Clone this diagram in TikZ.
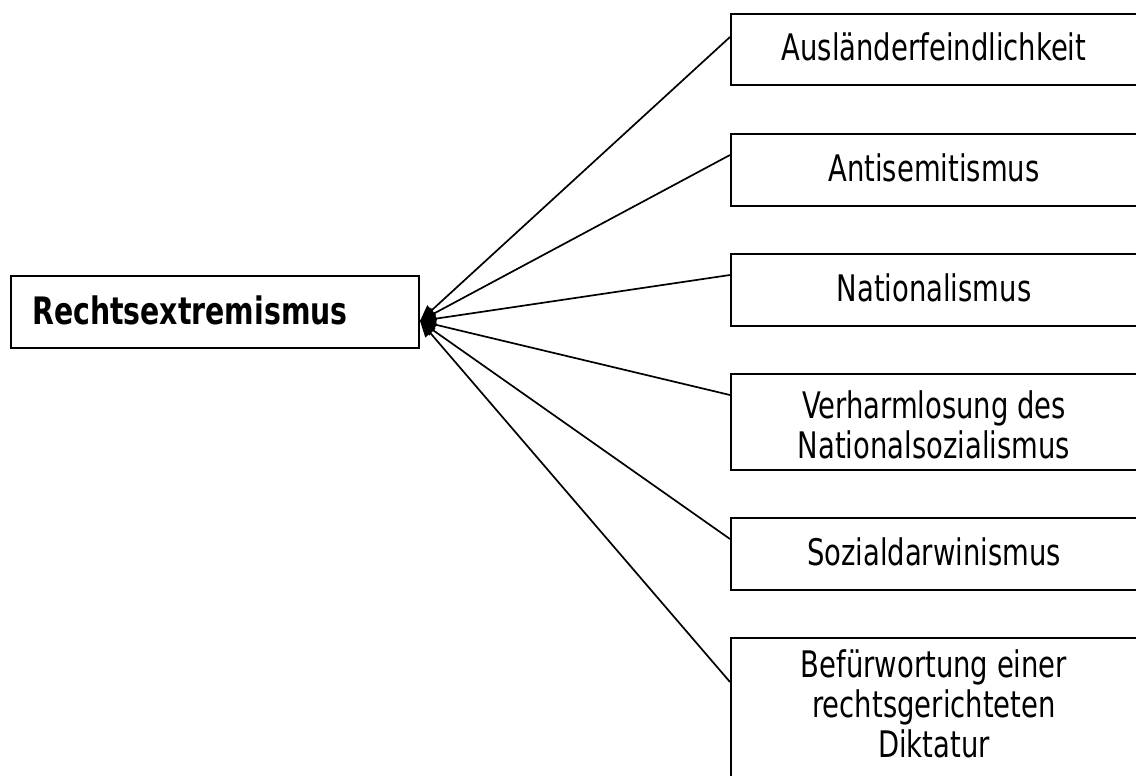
\documentclass[tikz,border=0pt]{standalone}
\usepackage{fontspec}
\usepackage{graphicx}
\setmainfont{DejaVu Sans Condensed}
\usetikzlibrary{arrows.meta}
\newcommand\stretchtext[1]{\scalebox{1}[1.2]{\begin{tabular}[b]{@{}c@{}}#1\end{tabular}}}
\begin{document}
\begin{tikzpicture}[x=1pt,y=-1pt,
  box/.style={draw,line width=2.2pt,rectangle,inner sep=0pt,anchor=north west,minimum width=410pt},
  lbl/.style={anchor=base,inner sep=0pt,font=\fontsize{30.5}{32.5}\selectfont},
  link/.style={line width=1.7pt,-{Triangle[length=16pt,width=13pt]}}]
\useasboundingbox (0,0) rectangle (1136,776);
% main box
\node[box,minimum width=408pt,minimum height=72pt] (main) at (10,275) {};
\node[anchor=base west,inner sep=0pt,font=\fontsize{31.5}{33}\selectfont\bfseries] (maint) at (32,324) {\stretchtext{Rechtsextremismus}};
\coordinate (tip) at (420,321);
% right boxes
\node[box,minimum height=71pt] (b1) at (730,13) {};
\node[box,minimum height=72pt] (b2) at (730,133) {};
\node[box,minimum height=72pt] (b3) at (730,253) {};
\node[box,minimum height=96pt] (b4) at (730,373) {};
\node[box,minimum height=72pt] (b5) at (730,517) {};
\node[box,minimum height=200pt] (b6) at (730,637) {};
\node[lbl] (t1) at (934,61) {\stretchtext{Ausländerfeindlichkeit}};
\node[lbl] (t2) at (934,181) {\stretchtext{Antisemitismus}};
\node[lbl] (t3) at (934,301) {\stretchtext{Nationalismus}};
\node[lbl] (t4) at (934,458) {\stretchtext{Verharmlosung des\\Nationalsozialismus}};
\node[lbl] (t5) at (934,565) {\stretchtext{Sozialdarwinismus}};
\node[lbl] (t6) at (934,757) {\stretchtext{Befürwortung einer\\rechtsgerichteten\\Diktatur}};
% connectors
\draw[link] ([yshift=-24pt]b1.north west) -- (tip);
\draw[link] ([yshift=-22pt]b2.north west) -- (tip);
\draw[link] ([yshift=-22pt]b3.north west) -- (tip);
\draw[link] ([yshift=-22pt]b4.north west) -- (tip);
\draw[link] ([yshift=-22pt]b5.north west) -- (tip);
\draw[link] ([yshift=-45pt]b6.north west) -- (tip);
\end{tikzpicture}
\end{document}
